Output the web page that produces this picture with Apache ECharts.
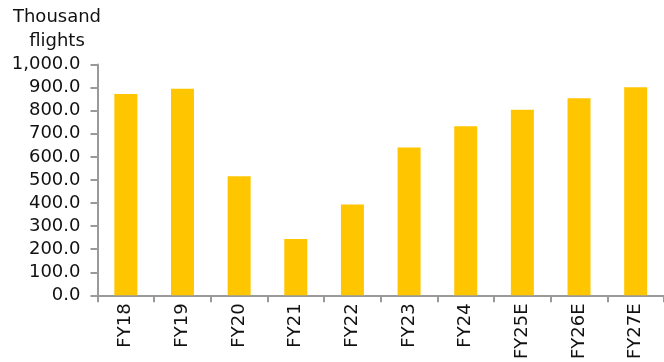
<!DOCTYPE html>
<html>
<head>
<meta charset="utf-8">
<script src="https://cdn.jsdelivr.net/npm/echarts@6/dist/echarts.min.js"></script>
<style>
  html, body { margin: 0; padding: 0; background: #fff; }
  #chart { width: 664px; height: 362px; }
</style>
</head>
<body>
<div id="chart"></div>
<script>
// 数据
const categories = ['FY18', 'FY19', 'FY20', 'FY21', 'FY22', 'FY23', 'FY24', 'FY25E', 'FY26E', 'FY27E'];
const flights = [872, 895, 516, 244, 394, 640, 732, 804, 854, 901];
const yTicks = [0, 100, 200, 300, 400, 500, 600, 700, 800, 900, 1000];

const myChart = echarts.init(document.getElementById('chart'));
const font = 'DejaVu Sans';
const axisColor = '#9a9a9a';

const option = {
  animation: false,
  title: {
    text: 'Thousand\nflights',
    left: 52,
    top: 0,
    textAlign: 'center',
    textStyle: {
      fontFamily: font,
      fontSize: 18,
      fontWeight: 'normal',
      color: '#111',
      lineHeight: 24
    }
  },
  grid: {
    left: 97.5,
    top: 64.5,
    width: 571,
    height: 234
  },
  xAxis: {
    type: 'category',
    data: categories,
    axisLine: { lineStyle: { color: axisColor, width: 2 } },
    axisTick: { show: true, length: 7, lineStyle: { color: axisColor, width: 2 } },
    axisLabel: {
      rotate: 90,
      interval: 0,
      margin: 8,
      fontFamily: font,
      fontSize: 18,
      color: '#111'
    }
  },
  yAxis: {
    type: 'value',
    min: yTicks[0],
    max: yTicks[yTicks.length - 1],
    interval: 100,
    splitLine: { show: false },
    axisLine: { show: true, lineStyle: { color: axisColor, width: 2 } },
    axisTick: { show: true, length: 7, lineStyle: { color: axisColor, width: 2 } },
    axisLabel: {
      margin: 17,
      fontFamily: font,
      fontSize: 18,
      color: '#111',
      formatter: (v) => v.toLocaleString('en-US', { minimumFractionDigits: 1, maximumFractionDigits: 1 })
    }
  },
  series: [
    {
      type: 'bar',
      data: flights,
      barWidth: 23,
      itemStyle: { color: '#FFC600' }
    }
  ]
};
myChart.setOption(option);
</script>
</body>
</html>
